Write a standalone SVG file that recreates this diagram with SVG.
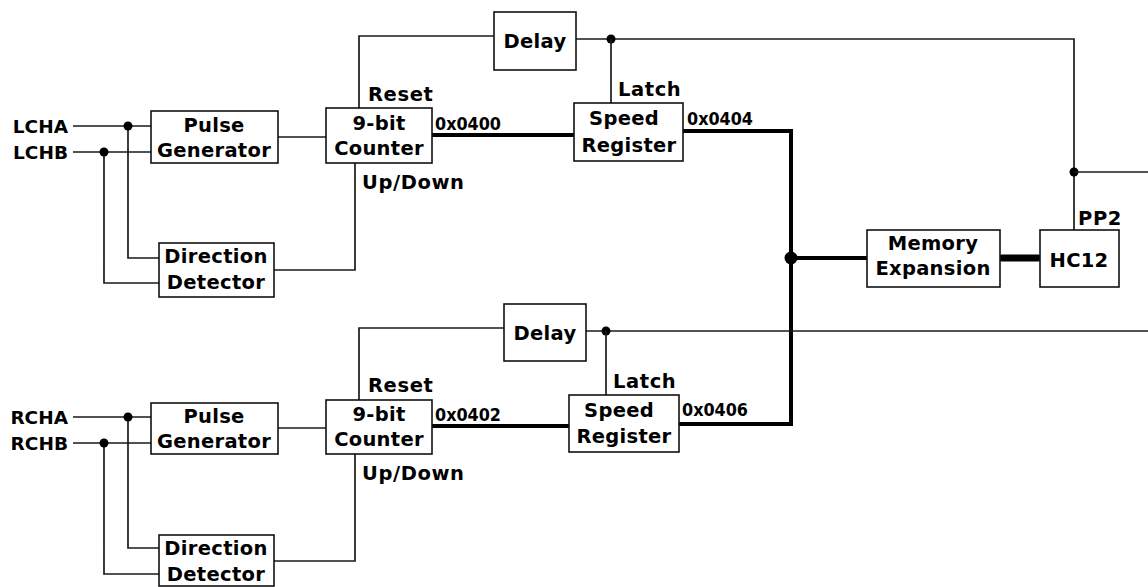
<svg xmlns="http://www.w3.org/2000/svg" width="1148" height="587" viewBox="0 0 1148 587">
<style>
text{font-family:"DejaVu Sans",Verdana,sans-serif;font-weight:bold;fill:#000}
.lbl{font-size:19.5px;text-anchor:middle;letter-spacing:0.3px}
.sig{font-size:19.5px;letter-spacing:0.6px}
.in{font-size:18.5px;text-anchor:end}
.hex{font-size:17px}
.box{fill:#fff;stroke:#111;stroke-width:1.6}
.w{fill:none;stroke:#1a1a1a;stroke-width:1.7}
.bus{fill:none;stroke:#000;stroke-width:4}
.bus2{fill:none;stroke:#000;stroke-width:7;stroke-linecap:round}
.dot{fill:#000}
</style>
<g id="connectors">
<path class="w" d="M73,126H151M73,152H151M128,126V258H159M104,152V283H159"/>
<circle class="dot" cx="128" cy="126" r="4.5"/>
<circle class="dot" cx="104" cy="152" r="4.5"/>
<path class="w" d="M278,137H326"/>
<path class="w" d="M359,108V36H494"/>
<path class="w" d="M576,39H1074V230"/>
<circle class="dot" cx="611" cy="39" r="4.5"/>
<path class="w" d="M611,39V103"/>
<path class="w" d="M355,163V270H274"/>
<path class="bus" d="M432,135H574"/>
<path class="bus" d="M683,131H791V424H679"/>
<circle class="dot" cx="1074" cy="172" r="4.5"/>
<path class="w" d="M1074,172H1148"/>
<path class="w" d="M73,417H151M73,443H151M128,417V548H159M104,443V574H159"/>
<circle class="dot" cx="128" cy="417" r="4.5"/>
<circle class="dot" cx="104" cy="443" r="4.5"/>
<path class="w" d="M278,428H326"/>
<path class="w" d="M359,400V328H504"/>
<path class="w" d="M586,331H1148"/>
<circle class="dot" cx="606" cy="331" r="4.5"/>
<path class="w" d="M606,331V395"/>
<path class="w" d="M355,454V561H274"/>
<path class="bus" d="M432,426H569"/>
<path class="bus" d="M791,258H867"/>
<circle class="dot" cx="791" cy="258" r="6.5"/>
<path class="bus2" d="M1002,258H1038"/>
</g>
<g id="labels">
<text class="in" x="68" y="133">LCHA</text>
<text class="in" x="68" y="159">LCHB</text>
<text class="in" x="68" y="424">RCHA</text>
<text class="in" x="68" y="450">RCHB</text>
<text class="sig" x="368" y="101">Reset</text>
<text class="sig" x="362" y="189">Up/Down</text>
<text class="sig" x="368" y="392">Reset</text>
<text class="sig" x="362" y="480">Up/Down</text>
<text class="sig" x="618" y="96">Latch</text>
<text class="sig" x="613" y="388">Latch</text>
<text class="sig" x="1078" y="225">PP2</text>
<text class="hex" x="435" y="130" textLength="66" lengthAdjust="spacingAndGlyphs">0x0400</text>
<text class="hex" x="687" y="125" textLength="66" lengthAdjust="spacingAndGlyphs">0x0404</text>
<text class="hex" x="435" y="421" textLength="66" lengthAdjust="spacingAndGlyphs">0x0402</text>
<text class="hex" x="682" y="416" textLength="66" lengthAdjust="spacingAndGlyphs">0x0406</text>
</g>
<g id="pulse-gen-l"><rect class="box" x="151" y="111" width="127" height="52"/><text class="lbl" x="214" y="132">Pulse</text><text class="lbl" x="214" y="157">Generator</text></g>
<g id="dir-det-l"><rect class="box" x="159" y="243" width="115" height="54"/><text class="lbl" x="216" y="263">Direction</text><text class="lbl" x="216" y="289">Detector</text></g>
<g id="counter-l"><rect class="box" x="326" y="108" width="106" height="55"/><text class="lbl" x="379" y="130">9-bit</text><text class="lbl" x="379" y="155">Counter</text></g>
<g id="delay-l"><rect class="box" x="494" y="12" width="82" height="58"/><text class="lbl" x="535" y="48">Delay</text></g>
<g id="speed-l"><rect class="box" x="574" y="103" width="109" height="58"/><text class="lbl" x="624" y="125">Speed</text><text class="lbl" x="629" y="152">Register</text></g>
<g id="pulse-gen-r"><rect class="box" x="151" y="403" width="127" height="51"/><text class="lbl" x="214" y="423">Pulse</text><text class="lbl" x="214" y="448">Generator</text></g>
<g id="dir-det-r"><rect class="box" x="159" y="535" width="115" height="51"/><text class="lbl" x="216" y="555">Direction</text><text class="lbl" x="216" y="581">Detector</text></g>
<g id="counter-r"><rect class="box" x="326" y="400" width="106" height="54"/><text class="lbl" x="379" y="421">9-bit</text><text class="lbl" x="379" y="446">Counter</text></g>
<g id="delay-r"><rect class="box" x="504" y="304" width="82" height="57"/><text class="lbl" x="545" y="340">Delay</text></g>
<g id="speed-r"><rect class="box" x="569" y="395" width="110" height="57"/><text class="lbl" x="619" y="417">Speed</text><text class="lbl" x="624" y="443">Register</text></g>
<g id="memory"><rect class="box" x="867" y="230" width="133" height="57"/><text class="lbl" x="933" y="250">Memory</text><text class="lbl" x="933" y="275">Expansion</text></g>
<g id="hc12"><rect class="box" x="1040" y="230" width="79" height="57"/><text class="lbl" x="1079" y="267">HC12</text></g>
</svg>
